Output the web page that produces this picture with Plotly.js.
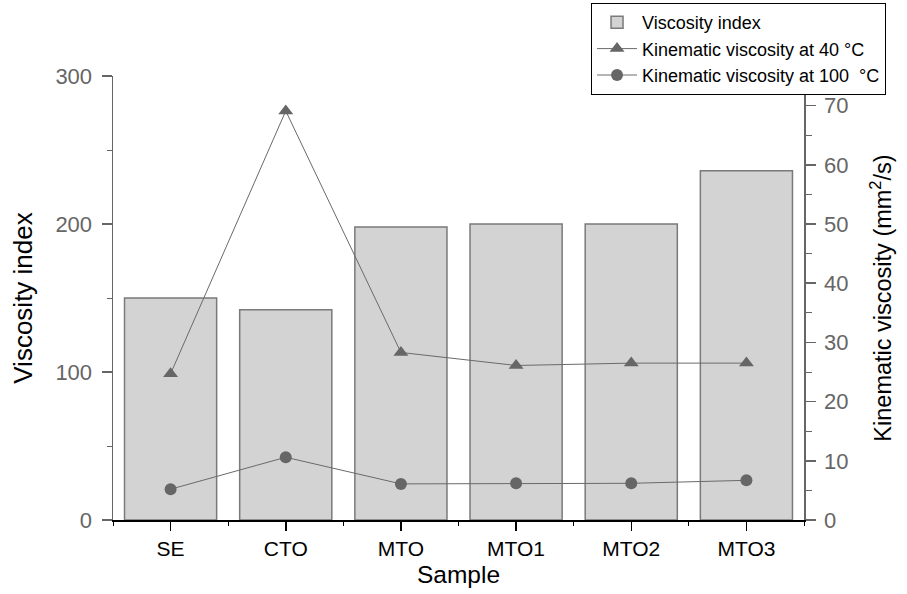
<!DOCTYPE html>
<html>
<head>
<meta charset="utf-8">
<script src="https://cdn.plot.ly/plotly-3.0.1.min.js"></script>
<style>html,body{margin:0;padding:0;background:#fff;}#chart{width:907px;height:594px;}</style>
</head>
<body>
<div id="chart"></div>
<script>
const categories = ["SE", "CTO", "MTO", "MTO1", "MTO2", "MTO3"];
const viscosityIndex = [150, 142, 198, 200, 200, 236];
const kv40 = [24.7, 69.1, 28.3, 26.1, 26.5, 26.5];
const kv100 = [5.2, 10.6, 6.1, 6.2, 6.2, 6.7];

const xIdx = categories.map((c, i) => i);
const grey = "#666666";
const font = "Liberation Sans, Arial, sans-serif";

const traces = [
  {
    type: "bar", name: "Viscosity index", x: xIdx, y: viscosityIndex, width: 0.8,
    marker: {color: "#d3d3d3", line: {color: "#7a7a7a", width: 1.5}},
    xaxis: "x", yaxis: "y"
  },
  {
    type: "scatter", mode: "lines+markers", name: "Kinematic viscosity at 40 °C",
    x: xIdx, y: kv40, xaxis: "x", yaxis: "y2",
    line: {color: "#6a6a6a", width: 1},
    marker: {symbol: "triangle-up", size: 13, color: grey}
  },
  {
    type: "scatter", mode: "lines+markers", name: "Kinematic viscosity at 100  °C",
    x: xIdx, y: kv100, xaxis: "x", yaxis: "y2",
    line: {color: "#6a6a6a", width: 1},
    marker: {symbol: "circle", size: 12, color: grey}
  }
];

const layout = {
  width: 907, height: 594,
  margin: {l: 113, r: 103, t: 76, b: 74, pad: 0, autoexpand: false},
  paper_bgcolor: "#fff", plot_bgcolor: "#fff",
  font: {family: font, color: "#000"},
  showlegend: true,
  bargap: 0.2,
  legend: {
    x: 0.6918, xanchor: "left", y: 1.1644, yanchor: "top",
    bordercolor: "#000", borderwidth: 1, bgcolor: "#fff",
    font: {size: 18, color: "#000", family: font},
    itemwidth: 40, tracegroupgap: 0
  },
  xaxis: {
    range: [-0.5, 5.5], tickmode: "array", tickvals: xIdx, ticktext: categories,
    showline: true, linecolor: "#000", linewidth: 1.5,
    ticks: "outside", ticklen: 9, tickwidth: 1.5, tickcolor: "#000",
    minor: {tickmode: "linear", tick0: 0.5, dtick: 1, ticks: "outside", ticklen: 4, tickwidth: 1, tickcolor: "#000"},
    showgrid: false, zeroline: false, automargin: false,
    tickfont: {size: 21, color: "#000"},
    title: {text: "Sample", font: {size: 24.5, color: "#000"}, standoff: 7}
  },
  xaxis2: {
    overlaying: "x", side: "top", anchor: "y", range: [-0.5, 5.5],
    tickmode: "array", tickvals: xIdx, showticklabels: false,
    showline: true, linecolor: "#000", linewidth: 1.5,
    ticks: "inside", ticklen: 8, tickwidth: 1.5, tickcolor: "#000",
    minor: {tickmode: "linear", tick0: 0.5, dtick: 1, ticks: "inside", ticklen: 4, tickwidth: 1, tickcolor: "#000"},
    showgrid: false, zeroline: false, automargin: false
  },
  yaxis: {
    range: [0, 300], dtick: 100, tick0: 0,
    showline: true, linecolor: grey, linewidth: 1.5,
    ticks: "outside", ticklen: 10, tickwidth: 1.5, tickcolor: grey,
    minor: {dtick: 50, ticks: "outside", ticklen: 5, tickwidth: 1, tickcolor: grey},
    showgrid: false, zeroline: false, automargin: false,
    ticklabelstandoff: 5,
    tickfont: {size: 22, color: grey},
    title: {text: "Viscosity index", font: {size: 26, color: "#000"}, standoff: 15}
  },
  yaxis2: {
    overlaying: "y", side: "right", anchor: "x", range: [0, 75], dtick: 10, tick0: 0,
    showline: true, linecolor: grey, linewidth: 1.5,
    ticks: "outside", ticklen: 10, tickwidth: 1.5, tickcolor: grey,
    minor: {dtick: 5, ticks: "outside", ticklen: 6, tickwidth: 1, tickcolor: grey},
    showgrid: false, zeroline: false, automargin: false,
    ticklabelstandoff: 4,
    tickfont: {size: 22, color: grey},
    title: {text: "Kinematic viscosity (mm<sup>2</sup>/s)", font: {size: 23.5, color: "#000"}, standoff: 27}
  }
};

Plotly.newPlot("chart", traces, layout, {displayModeBar: false, staticPlot: true});
</script>
</body>
</html>
